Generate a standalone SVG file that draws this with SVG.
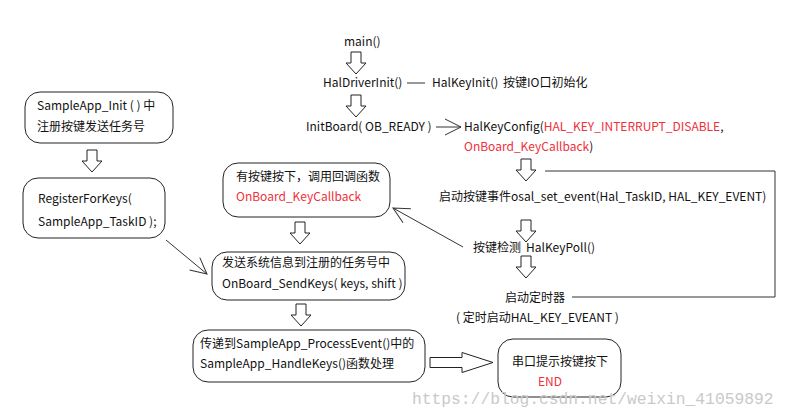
<svg xmlns="http://www.w3.org/2000/svg" xmlns:xlink="http://www.w3.org/1999/xlink" width="793" height="415" viewBox="0 0 793 415">
<style>
text{font-family:"Microsoft YaHei","Noto Sans CJK SC","Noto Sans",sans-serif;font-size:12px;fill:#111}
.red{fill:#f0303a}
.box{fill:#fff;stroke:#222;stroke-width:1}
.ha{fill:#fff;stroke:#222;stroke-width:1}
.ln{fill:none;stroke:#333;stroke-width:1}
.wm{font-family:"Liberation Mono",monospace;font-size:16.3px;fill:#c9c9c9}
</style>
<defs>
<path id="dn" d="M-5,0 H5 V11 H10 L0,22 L-10,11 H-5 Z"/>
<marker id="oa" markerWidth="24" markerHeight="24" refX="20" refY="12" orient="auto" markerUnits="userSpaceOnUse">
<path d="M4,4 L20,12 L4,20" fill="none" stroke="#333" stroke-width="1"/>
</marker>
</defs>
<rect width="793" height="415" fill="#fff"/>

<g id="connectors">
<use xlink:href="#dn" class="ha" x="356" y="52"/>
<use xlink:href="#dn" class="ha" x="356" y="95"/>
<use xlink:href="#dn" class="ha" x="526" y="159"/>
<use xlink:href="#dn" class="ha" x="526" y="220"/>
<use xlink:href="#dn" class="ha" x="526" y="256"/>
<use xlink:href="#dn" class="ha" x="92" y="150"/>
<use xlink:href="#dn" class="ha" x="300" y="222"/>
<use xlink:href="#dn" class="ha" x="301" y="304"/>
<line class="ln" x1="407" y1="83" x2="425" y2="83"/>
<line class="ln" x1="436" y1="127" x2="461" y2="127" marker-end="url(#oa)"/>
<polyline class="ln" points="545,171 775,171 775,297 572,297"/>
<line class="ln" x1="463" y1="247" x2="393" y2="208" marker-end="url(#oa)"/>
<line class="ln" x1="166" y1="240" x2="207" y2="274" marker-end="url(#oa)"/>
<path class="ha" d="M430,357.5 H462 V352.5 L493,362.5 L462,372.5 V367.5 H430 Z"/>
</g>

<g id="main"><text x="344" y="46">main()</text></g>
<g id="haldriverinit"><text x="323" y="87">HalDriverInit()</text></g>
<g id="halkeyinit"><text x="432" y="87">HalKeyInit()</text><text x="503" y="87">按键IO口初始化</text></g>
<g id="initboard"><text x="306" y="131">InitBoard( OB_READY )</text></g>
<g id="halkeyconfig">
<text x="464" y="131">HalKeyConfig(<tspan class="red">HAL_KEY_INTERRUPT_DISABLE</tspan>,</text>
<text x="464" y="151"><tspan class="red">OnBoard_KeyCallback</tspan>)</text>
</g>
<g id="setevent"><text x="439" y="201">启动按键事件osal_set_event(Hal_TaskID, HAL_KEY_EVENT)</text></g>
<g id="keypoll"><text x="473" y="252">按键检测</text><text x="526" y="252">HalKeyPoll()</text></g>
<g id="timer">
<text x="505" y="302">启动定时器</text>
<text x="456" y="322">( 定时启动HAL_KEY_EVEANT )</text>
</g>

<g id="sampleinit">
<rect class="box" x="25" y="92" width="148" height="51" rx="15"/>
<text x="37" y="110">SampleApp_Init ( ) 中</text>
<text x="37" y="131">注册按键发送任务号</text>
</g>
<g id="register">
<rect class="box" x="23" y="178" width="142" height="60" rx="15"/>
<text x="38" y="203">RegisterForKeys(</text>
<text x="38" y="226">SampleApp_TaskID );</text>
</g>
<g id="callback">
<rect class="box" x="223" y="163" width="167" height="54" rx="15"/>
<text x="236" y="181">有按键按下，调用回调函数</text>
<text x="236" y="201" class="red">OnBoard_KeyCallback</text>
</g>
<g id="sendkeys">
<rect class="box" x="212" y="252" width="193" height="48" rx="15"/>
<text x="222" y="267">发送系统信息到注册的任务号中</text>
<text x="222" y="288">OnBoard_SendKeys( keys, shift )</text>
</g>
<g id="processevent">
<rect class="box" x="193" y="330" width="232" height="52" rx="15"/>
<text x="200" y="348">传递到SampleApp_ProcessEvent()中的</text>
<text x="200" y="368">SampleApp_HandleKeys()函数处理</text>
</g>
<g id="end">
<rect class="box" x="498" y="339" width="123" height="58" rx="15"/>
<text x="512" y="366">串口提示按键按下</text>
<text x="550" y="386" class="red" text-anchor="middle">END</text>
</g>
<text class="wm" x="412" y="404">https://blog.csdn.net/weixin_41059892</text>
</svg>
